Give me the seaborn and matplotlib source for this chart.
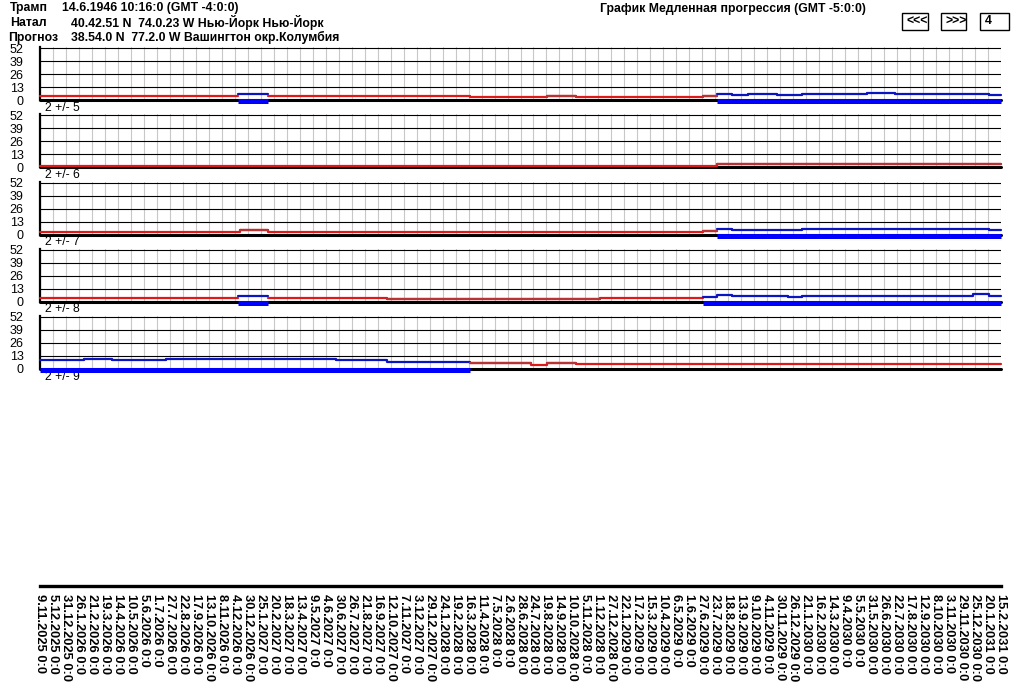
import matplotlib
matplotlib.use('Agg')
import matplotlib.pyplot as plt
import seaborn as sns
import pandas as pd
from matplotlib.patches import Rectangle

# ---------------- data ----------------
TICK_DATES = [
    "9.11.2025", "5.12.2025", "31.12.2025", "26.1.2026", "21.2.2026", "19.3.2026",
    "14.4.2026", "10.5.2026", "5.6.2026", "1.7.2026", "27.7.2026", "22.8.2026",
    "17.9.2026", "13.10.2026", "8.11.2026", "4.12.2026", "30.12.2026", "25.1.2027",
    "20.2.2027", "18.3.2027", "13.4.2027", "9.5.2027", "4.6.2027", "30.6.2027",
    "26.7.2027", "21.8.2027", "16.9.2027", "12.10.2027", "7.11.2027", "3.12.2027",
    "29.12.2027", "24.1.2028", "19.2.2028", "16.3.2028", "11.4.2028", "7.5.2028",
    "2.6.2028", "28.6.2028", "24.7.2028", "19.8.2028", "14.9.2028", "10.10.2028",
    "5.11.2028", "1.12.2028", "27.12.2028", "22.1.2029", "17.2.2029", "15.3.2029",
    "10.4.2029", "6.5.2029", "1.6.2029", "27.6.2029", "23.7.2029", "18.8.2029",
    "13.9.2029", "9.10.2029", "4.11.2029", "30.11.2029", "26.12.2029", "21.1.2030",
    "16.2.2030", "14.3.2030", "9.4.2030", "5.5.2030", "31.5.2030", "26.6.2030",
    "22.7.2030", "17.8.2030", "12.9.2030", "8.10.2030", "3.11.2030", "29.11.2030",
    "25.12.2030", "20.1.2031", "15.2.2031",
]
TICK_LABELS = [d + " 0:0" for d in TICK_DATES]
Y_TICKS = [0, 13, 26, 39, 52]
PANEL_LABELS = ["2 +/- 5", "2 +/- 6", "2 +/- 7", "2 +/- 8", "2 +/- 9"]

# step series: breakpoints (in tick units), values, kind (r=red, d=dark red, b=blue)
p1_x = [0, 15.27, 17.58, 33.08, 39.01, 41.25, 51.04, 52.12, 53.28, 54.51, 56.75, 58.67, 63.69, 65.84, 73.09, 74]
p1_v = [4.5, 6, 4.5, 3, 4.5, 3, 4, 6.5, 5.5, 6.5, 5.5, 6.5, 7.5, 6.5, 5.5]
p1_k = ['r', 'b', 'r', 'r', 'd', 'r', 'd', 'b', 'b', 'b', 'b', 'b', 'b', 'b', 'b']

p2_x = [0, 52.12, 74]
p2_v = [1.5, 3]
p2_k = ['r', 'd']

p3_x = [0, 15.42, 17.58, 51.04, 52.12, 53.28, 58.67, 73.09, 74]
p3_v = [3, 4.5, 3, 4, 6, 5, 6, 5]
p3_k = ['r', 'd', 'r', 'd', 'b', 'b', 'b', 'b']

p4_x = [0, 15.27, 17.58, 26.75, 43.1, 51.04, 52.12, 53.28, 57.6, 58.67, 71.83, 73.09, 74]
p4_v = [4, 5.5, 4, 3, 4, 5, 7, 6, 5, 6, 7.3, 6]
p4_k = ['r', 'b', 'r', 'd', 'r', 'b', 'b', 'b', 'b', 'b', 'b', 'b']

p5_x = [0, 3.39, 5.55, 9.71, 22.8, 26.75, 33.08, 37.78, 39.01, 41.25, 74]
p5_v = [9, 10, 9, 10, 9, 7, 5.5, 4, 5.5, 4.3]
p5_k = ['b', 'b', 'b', 'b', 'b', 'b', 'd', 'r', 'd', 'r']

PANELS = [(p1_x, p1_v, p1_k), (p2_x, p2_v, p2_k), (p3_x, p3_v, p3_k),
          (p4_x, p4_v, p4_k), (p5_x, p5_v, p5_k)]

# ---------------- style ----------------
sns.set_style('white')
plt.rcParams['font.family'] = ['Liberation Sans', 'DejaVu Sans']

RED = '#e01818'
DRED = '#b83434'
BLUE = '#0a14c0'
BAR = '#0000ff'

W, H = 1022, 690
fig = plt.figure(figsize=(W / 100, H / 100), dpi=100)


def fx(x):
    return x / W


def fy(y):
    return 1 - y / H


L, R = 40, 1001
ZEROS = [100.3, 167.4, 234.5, 301.6, 368.7]
NT = len(TICK_DATES) - 1

for i, (xs, vs, ks) in enumerate(PANELS):
    z = ZEROS[i]
    ax = fig.add_axes([fx(L), fy(z), (R - L) / W, 53 / H])
    ax.set_xlim(0, NT)
    ax.set_ylim(0, 53)
    ax.set_xticks(range(NT + 1))
    ax.set_xticklabels([])
    ax.set_yticks(Y_TICKS)
    ax.set_yticklabels([str(t) for t in Y_TICKS])
    ax.tick_params(axis='x', length=0)
    ax.tick_params(axis='y', length=7.2, width=0.8, color='black', pad=4.5,
                   labelsize=9, labelcolor='black')
    ax.xaxis.grid(True, color='#c8c8c8', lw=0.8)
    ax.yaxis.grid(True, color='black', lw=0.8)
    ax.set_axisbelow(True)
    for s in ['top', 'right', 'bottom']:
        ax.spines[s].set_visible(False)
    ax.spines['left'].set_linewidth(1.6)
    ax.spines['left'].set_color('black')
    ax.axhline(0, color='black', lw=2.2, zorder=3, clip_on=False)

    # group consecutive segments into colour families
    n = len(vs)
    j = 0
    while j < n:
        fam = 'b' if ks[j] == 'b' else 'r'
        k = j
        while k + 1 < n and (('b' if ks[k + 1] == 'b' else 'r') == fam):
            k += 1
        rx = xs[j:k + 2]
        ry = vs[j:k + 1] + [vs[k]]
        df = pd.DataFrame({'x': rx, 'y': ry})
        sns.lineplot(data=df, x='x', y='y', ax=ax, estimator=None, sort=False,
                     drawstyle='steps-post', color=BLUE if fam == 'b' else RED,
                     lw=1.6, zorder=4, clip_on=False)
        if fam == 'b':
            ax.hlines(-1.2, xs[j], xs[k + 1], color=BAR, lw=3.6, zorder=5, clip_on=False)
        j = k + 1
    for j in range(n):
        if ks[j] == 'd':
            df = pd.DataFrame({'x': [xs[j], xs[j + 1]], 'y': [vs[j], vs[j]]})
            sns.lineplot(data=df, x='x', y='y', ax=ax, estimator=None, sort=False,
                         color=DRED, lw=1.6, zorder=4.5, clip_on=False)
    ax.set_xlabel('')
    ax.set_ylabel('')
    ax.text(0.35, -7.8, PANEL_LABELS[i], fontsize=8.8, va='center', ha='left',
            color='black', clip_on=False)

# bottom date axis
axb = fig.add_axes([fx(L), fy(586), (R - L) / W, 0.5 / H])
axb.set_xlim(0, NT)
axb.set_yticks([])
axb.patch.set_visible(False)
for s in ['top', 'right', 'left']:
    axb.spines[s].set_visible(False)
axb.spines['bottom'].set_linewidth(2.4)
axb.spines['bottom'].set_color('black')
axb.set_xticks(range(NT + 1))
axb.set_xticklabels(TICK_LABELS)
axb.tick_params(axis='x', length=3, width=0.8, color='black', pad=2.5,
                labelsize=9.3, labelrotation=270, labelcolor='black')
for lbl in axb.get_xticklabels():
    lbl.set_fontweight('bold')

# header texts
hdr = dict(fontsize=8.8, fontweight='bold', va='center', ha='left', color='black')
fig.text(fx(10), fy(8.5), 'Трамп', **hdr)
fig.text(fx(62), fy(8.5), '14.6.1946 10:16:0 (GMT -4:0:0)', **hdr)
fig.text(fx(10), fy(22.5), 'Натал', **hdr)
fig.text(fx(71), fy(22.5), '40.42.51 N  74.0.23 W Нью-Йорк Нью-Йорк', **hdr)
fig.text(fx(8), fy(37.5), 'Прогноз', **hdr)
fig.text(fx(71), fy(37.5), '38.54.0 N  77.2.0 W Вашингтон окр.Колумбия', **hdr)
fig.text(fx(600), fy(9), 'График Медленная прогрессия (GMT -5:0:0)', **hdr)

for (x0, x1, t, tx) in [(902, 928, '<<<', 906), (941, 966, '>>>', 945), (980, 1009, '4', 985)]:
    fig.patches.append(Rectangle((fx(x0), fy(30)), (x1 - x0) / W, 17 / H,
                                 transform=fig.transFigure, fill=False,
                                 ec='black', lw=1.0))
    fig.text(fx(tx), fy(21.5), t, **hdr)

fig.savefig('out.png', dpi=100)
